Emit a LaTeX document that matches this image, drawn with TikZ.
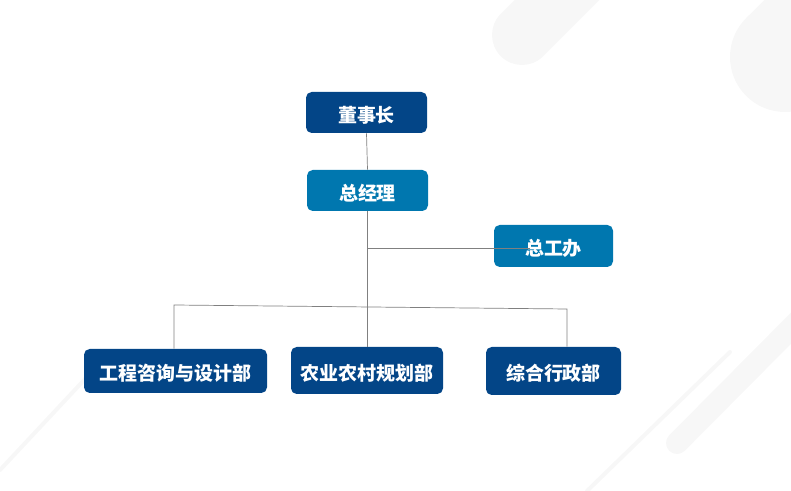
\documentclass[tikz,border=0pt]{standalone}
\usepackage{fontspec}
\newfontfamily\cjk{Noto Sans CJK SC}
\usepackage{tikz}
\usetikzlibrary{calc, positioning}

\definecolor{navy}{RGB}{3,69,135}
\definecolor{teal}{RGB}{0,119,175}
\definecolor{deco}{RGB}{247,247,247}
\definecolor{conn}{RGB}{128,128,128}

\tikzset{
  box/.style={rounded corners=4pt, text=white, inner sep=0pt,
    text height=14pt, text depth=0pt,
    font=\cjk\bfseries\fontsize{13.5}{15}\selectfont},
  navybox/.style={box, fill=navy},
  tealbox/.style={box, fill=teal},
  link/.style={draw=conn, line width=0.5pt}
}

\begin{document}
\begin{tikzpicture}
  \useasboundingbox (0,0) rectangle (19.775,12.275);

  % Background strokes
  \begin{scope}
    \clip (0,0) rectangle (19.775,12.275);
    \draw[deco, line width=1.5cm, line cap=round] (13.05,11.4) -- (15.4,13.75);
    \draw[deco, line width=2.75cm, line cap=round] (19.625,10.85) -- (21.9,13.1);
    \draw[deco, line width=0.55cm, line cap=round] (16.925,1.2) -- (20.5,4.8);
    \draw[deco, line width=0.1cm, line cap=round] (14.675,0) -- (18.25,3.475);
    \draw[deco, line width=0.1cm, line cap=round] (0,0.525) -- (2.5,3.2);
  \end{scope}

  % Boxes
  \node[navybox, minimum width=3.025cm, minimum height=1.025cm] (dsz) at (9.1625,9.4625) {董事长};
  \node[tealbox, minimum width=3.025cm, minimum height=1.025cm] (zjl) at (9.1875,7.5125) {总经理};
  \node[tealbox, minimum width=2.975cm, minimum height=1.05cm] (zgb) at (13.8375,6.125) {总工办};
  \node[navybox, minimum width=4.575cm, minimum height=1.1cm] (gc) at (4.3875,3.0) {工程咨询与设计部};
  \node[navybox, minimum width=3.8cm, minimum height=1.175cm] (ny) at (9.175,3.0125) {农业农村规划部};
  \node[navybox, minimum width=3.375cm, minimum height=1.2cm] (zh) at (13.8375,3.0) {综合行政部};

  % Connectors
  \coordinate (branch) at (9.1875,6.075);
  \coordinate (barL) at (4.35,4.65);
  \coordinate (barR) at (14.175,4.55);
  \coordinate (zgbin) at (13.25,6.075);

  \draw[link] (dsz.south) -- (zjl.north);
  \draw[link] (zjl.south) -- (zjl.south |- ny.north);
  \draw[link] (branch) -- (zgbin);
  \draw[link] (gc.north -| barL) -- (barL) -- (barR) -- (barR |- zh.north);
\end{tikzpicture}
\end{document}
